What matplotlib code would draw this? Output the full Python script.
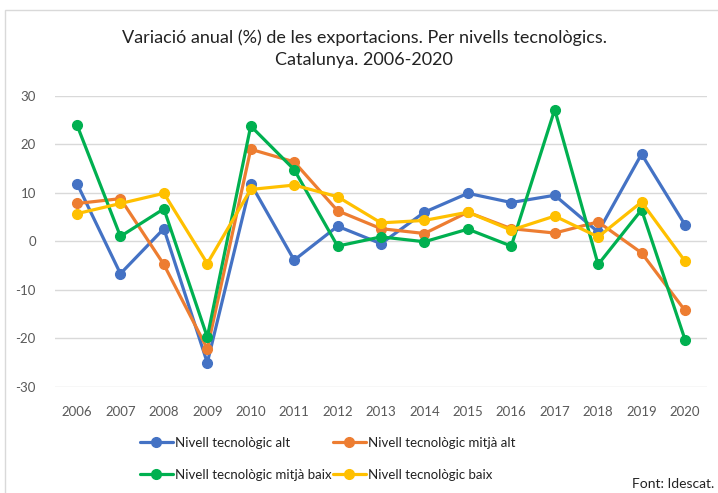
import matplotlib.pyplot as plt
from matplotlib.patches import Rectangle

plt.rcParams['font.family'] = ['Lato', 'DejaVu Sans']
plt.rcParams['axes.unicode_minus'] = False

years = ['2006', '2007', '2008', '2009', '2010', '2011', '2012', '2013',
         '2014', '2015', '2016', '2017', '2018', '2019', '2020']

alt = [11.9, -6.7, 2.6, -25.1, 11.9, -3.9, 3.1, -0.5, 6.0, 9.9, 8.0, 9.5, 1.9, 18.0, 3.4]
mitja_alt = [7.8, 8.8, -4.8, -22.2, 19.0, 16.4, 6.3, 2.6, 1.6, 6.0, 2.6, 1.7, 4.0, -2.4, -14.3]
mitja_baix = [24.0, 1.0, 6.7, -19.8, 23.8, 14.8, -1.0, 0.9, -0.1, 2.5, -1.0, 27.2, -4.8, 6.5, -20.3]
baix = [5.7, 7.8, 9.9, -4.6, 10.7, 11.6, 9.2, 3.8, 4.3, 6.0, 2.3, 5.2, 0.9, 8.1, -4.1]

series = [
    ('Nivell tecnològic alt', alt, '#4472C4'),
    ('Nivell tecnològic mitjà baix', mitja_baix, '#00B050'),
    ('Nivell tecnològic mitjà alt', mitja_alt, '#ED7D31'),
    ('Nivell tecnològic baix', baix, '#FFC000'),
]
draw_order = [0, 2, 1, 3]

W, H = 718, 493
fig = plt.figure(figsize=(W / 100, H / 100), dpi=100)
fig.patch.set_facecolor('white')

# chart border (cropped at right/bottom)
fig.patches.append(Rectangle((5 / W, -0.1), 1.2, 1 - 10 / H + 0.1, transform=fig.transFigure,
                             fill=False, edgecolor='#D9D9D9', linewidth=1))

left, right, top, bottom = 55.3, 706.7, 96, 386.5
ax = fig.add_axes([left / W, 1 - bottom / H, (right - left) / W, (bottom - top) / H])

x = list(range(len(years)))
handles = {}
for i in draw_order:
    name, vals, col = series[i]
    h, = ax.plot(x, vals, color=col, linewidth=2.3, marker='o', markersize=7, label=name,
                 solid_capstyle='round')
    handles[i] = h

ax.set_xlim(-0.5, len(years) - 0.5)
ax.set_ylim(-30, 30)
ax.set_yticks(range(-30, 31, 10))
ax.set_xticks(x)
ax.set_xticklabels(years)
ax.grid(axis='y', color='#D9D9D9', linewidth=1)
ax.set_axisbelow(True)
for s in ax.spines.values():
    s.set_visible(False)
ax.tick_params(axis='both', length=0, labelsize=9.5, colors='#595959')
ax.tick_params(axis='y', pad=14)
ax.tick_params(axis='x', pad=14)

fig.text(364 / W, 1 - 38 / H, 'Variació anual (%) de les exportacions. Per nivells tecnològics.',
         ha='center', va='center', fontsize=13, color='#222222')
fig.text(364 / W, 1 - 60 / H, 'Catalunya. 2006-2020', ha='center', va='center',
         fontsize=13, color='#222222')

fig.legend([handles[i] for i in range(4)], [series[i][0] for i in range(4)],
           ncol=2, loc='upper left', bbox_to_anchor=(128 / W, 1 - 425 / H),
           frameon=False, fontsize=9.5, handlelength=2.5, handletextpad=0.15,
           columnspacing=0.1, labelspacing=1.5, labelcolor='#222222')

fig.text(714 / W, 1 - 484 / H, 'Font: Idescat.', ha='right', va='center', fontsize=10,
         color='#222222')

fig.savefig('out.png', dpi=100)
